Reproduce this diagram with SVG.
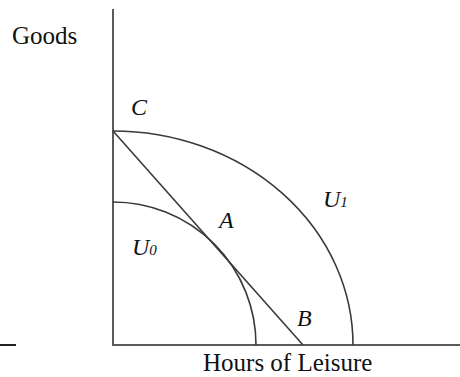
<svg xmlns="http://www.w3.org/2000/svg" width="460" height="377" viewBox="0 0 460 377">
<style>
.axis{stroke:#5a5a5a;stroke-width:2;fill:none}
.curve{stroke:#3a3a3a;stroke-width:1.6;fill:none}
.t{font-family:"Liberation Serif","Times New Roman",serif;fill:#111}
.lbl{font-size:25px}
.it{font-style:italic;font-size:24px}
.sub{font-style:italic;font-size:15px}
</style>
<rect width="460" height="377" fill="#fff"/>
<g id="axes">
<line class="axis" x1="113" y1="9" x2="113" y2="346"/>
<line class="axis" x1="112" y1="345" x2="460" y2="345"/>
<line x1="0" y1="345" x2="16" y2="345" stroke="#222" stroke-width="2"/>
</g>
<g id="connectors">
<path id="U1-curve" class="curve" d="M113,131 A240,214 0 0 1 353,345"/>
<path id="U0-curve" class="curve" d="M113,202 A143,143 0 0 1 256,345"/>
<line id="budget-line" class="curve" x1="113" y1="131" x2="303" y2="345"/>
</g>
<g id="labels">
<text class="t lbl" x="12" y="44">Goods</text>
<text class="t lbl" x="203" y="371">Hours of Leisure</text>
<text class="t it" x="131" y="115">C</text>
<text class="t it" x="219" y="228">A</text>
<text class="t it" x="297" y="326">B</text>
<text class="t" x="132" y="255"><tspan class="it">U</tspan><tspan class="sub">0</tspan></text>
<text class="t" x="323" y="207"><tspan class="it">U</tspan><tspan class="sub">1</tspan></text>
</g>
</svg>
